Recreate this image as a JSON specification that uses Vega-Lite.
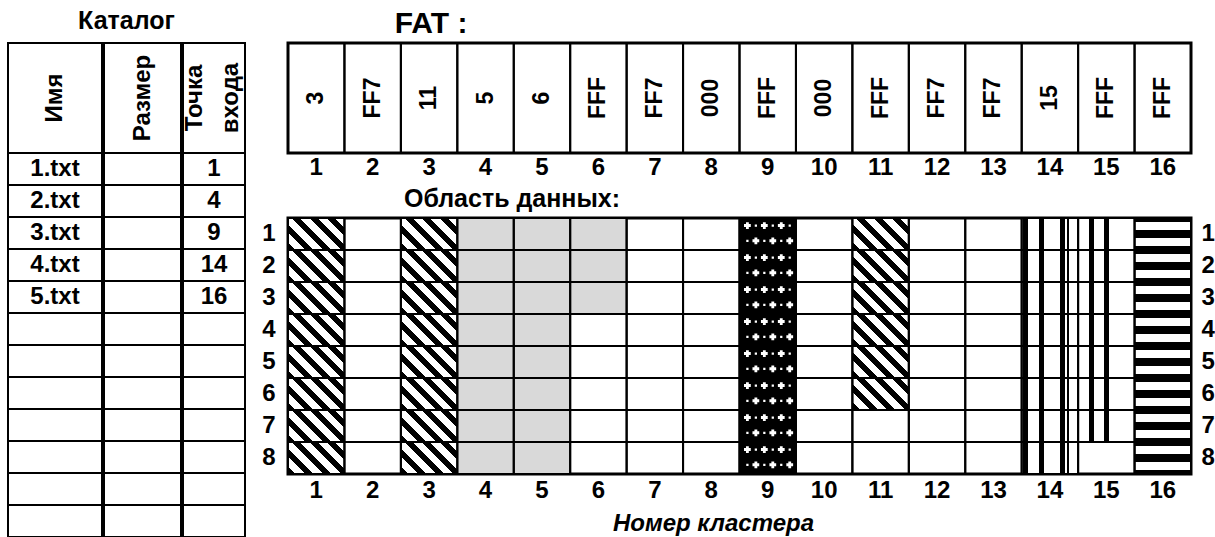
{
  "$schema": "https://vega.github.io/schema/vega-lite/v6.json",
  "background": "white",
  "padding": {"left": 6, "top": 7, "right": 0, "bottom": 0},
  "autosize": {"type": "pad"},
  "config": {
    "font": "Liberation Sans",
    "view": {"stroke": "black", "strokeWidth": 2},
    "text": {"font": "Liberation Sans", "fontWeight": "bold", "fontSize": 24, "color": "black"},
    "title": {"font": "Liberation Sans", "fontWeight": "bold", "color": "black"},
    "axis": {"labelFont": "Liberation Sans", "labelFontWeight": "bold", "labelFontSize": 24, "labelColor": "black", "domain": false, "ticks": false, "tickSize": 0, "grid": false, "labelAngle": 0}
  },
  "datasets": {
    "catalog": [
      {"row": 1, "name": "1.txt", "size": "", "entry": "1"},
      {"row": 2, "name": "2.txt", "size": "", "entry": "4"},
      {"row": 3, "name": "3.txt", "size": "", "entry": "9"},
      {"row": 4, "name": "4.txt", "size": "", "entry": "14"},
      {"row": 5, "name": "5.txt", "size": "", "entry": "16"},
      {"row": 6, "name": "", "size": "", "entry": ""},
      {"row": 7, "name": "", "size": "", "entry": ""},
      {"row": 8, "name": "", "size": "", "entry": ""},
      {"row": 9, "name": "", "size": "", "entry": ""},
      {"row": 10, "name": "", "size": "", "entry": ""},
      {"row": 11, "name": "", "size": "", "entry": ""},
      {"row": 12, "name": "", "size": "", "entry": ""}
    ],
    "fat": [
      {"cluster": 1, "value": "3"}, {"cluster": 2, "value": "FF7"}, {"cluster": 3, "value": "11"}, {"cluster": 4, "value": "5"},
      {"cluster": 5, "value": "6"}, {"cluster": 6, "value": "FFF"}, {"cluster": 7, "value": "FF7"}, {"cluster": 8, "value": "000"},
      {"cluster": 9, "value": "FFF"}, {"cluster": 10, "value": "000"}, {"cluster": 11, "value": "FFF"}, {"cluster": 12, "value": "FF7"},
      {"cluster": 13, "value": "FF7"}, {"cluster": 14, "value": "15"}, {"cluster": 15, "value": "FFF"}, {"cluster": 16, "value": "FFF"}
    ],
    "cells": [
      {"cluster": 1, "sector": 1, "file": "1.txt"}, {"cluster": 1, "sector": 2, "file": "1.txt"}, {"cluster": 1, "sector": 3, "file": "1.txt"}, {"cluster": 1, "sector": 4, "file": "1.txt"},
      {"cluster": 1, "sector": 5, "file": "1.txt"}, {"cluster": 1, "sector": 6, "file": "1.txt"}, {"cluster": 1, "sector": 7, "file": "1.txt"}, {"cluster": 1, "sector": 8, "file": "1.txt"},
      {"cluster": 2, "sector": 1, "file": ""}, {"cluster": 2, "sector": 2, "file": ""}, {"cluster": 2, "sector": 3, "file": ""}, {"cluster": 2, "sector": 4, "file": ""},
      {"cluster": 2, "sector": 5, "file": ""}, {"cluster": 2, "sector": 6, "file": ""}, {"cluster": 2, "sector": 7, "file": ""}, {"cluster": 2, "sector": 8, "file": ""},
      {"cluster": 3, "sector": 1, "file": "1.txt"}, {"cluster": 3, "sector": 2, "file": "1.txt"}, {"cluster": 3, "sector": 3, "file": "1.txt"}, {"cluster": 3, "sector": 4, "file": "1.txt"},
      {"cluster": 3, "sector": 5, "file": "1.txt"}, {"cluster": 3, "sector": 6, "file": "1.txt"}, {"cluster": 3, "sector": 7, "file": "1.txt"}, {"cluster": 3, "sector": 8, "file": "1.txt"},
      {"cluster": 4, "sector": 1, "file": "2.txt"}, {"cluster": 4, "sector": 2, "file": "2.txt"}, {"cluster": 4, "sector": 3, "file": "2.txt"}, {"cluster": 4, "sector": 4, "file": "2.txt"},
      {"cluster": 4, "sector": 5, "file": "2.txt"}, {"cluster": 4, "sector": 6, "file": "2.txt"}, {"cluster": 4, "sector": 7, "file": "2.txt"}, {"cluster": 4, "sector": 8, "file": "2.txt"},
      {"cluster": 5, "sector": 1, "file": "2.txt"}, {"cluster": 5, "sector": 2, "file": "2.txt"}, {"cluster": 5, "sector": 3, "file": "2.txt"}, {"cluster": 5, "sector": 4, "file": "2.txt"},
      {"cluster": 5, "sector": 5, "file": "2.txt"}, {"cluster": 5, "sector": 6, "file": "2.txt"}, {"cluster": 5, "sector": 7, "file": "2.txt"}, {"cluster": 5, "sector": 8, "file": "2.txt"},
      {"cluster": 6, "sector": 1, "file": "2.txt"}, {"cluster": 6, "sector": 2, "file": "2.txt"}, {"cluster": 6, "sector": 3, "file": "2.txt"}, {"cluster": 6, "sector": 4, "file": ""},
      {"cluster": 6, "sector": 5, "file": ""}, {"cluster": 6, "sector": 6, "file": ""}, {"cluster": 6, "sector": 7, "file": ""}, {"cluster": 6, "sector": 8, "file": ""},
      {"cluster": 7, "sector": 1, "file": ""}, {"cluster": 7, "sector": 2, "file": ""}, {"cluster": 7, "sector": 3, "file": ""}, {"cluster": 7, "sector": 4, "file": ""},
      {"cluster": 7, "sector": 5, "file": ""}, {"cluster": 7, "sector": 6, "file": ""}, {"cluster": 7, "sector": 7, "file": ""}, {"cluster": 7, "sector": 8, "file": ""},
      {"cluster": 8, "sector": 1, "file": ""}, {"cluster": 8, "sector": 2, "file": ""}, {"cluster": 8, "sector": 3, "file": ""}, {"cluster": 8, "sector": 4, "file": ""},
      {"cluster": 8, "sector": 5, "file": ""}, {"cluster": 8, "sector": 6, "file": ""}, {"cluster": 8, "sector": 7, "file": ""}, {"cluster": 8, "sector": 8, "file": ""},
      {"cluster": 9, "sector": 1, "file": "3.txt"}, {"cluster": 9, "sector": 2, "file": "3.txt"}, {"cluster": 9, "sector": 3, "file": "3.txt"}, {"cluster": 9, "sector": 4, "file": "3.txt"},
      {"cluster": 9, "sector": 5, "file": "3.txt"}, {"cluster": 9, "sector": 6, "file": "3.txt"}, {"cluster": 9, "sector": 7, "file": "3.txt"}, {"cluster": 9, "sector": 8, "file": "3.txt"},
      {"cluster": 10, "sector": 1, "file": ""}, {"cluster": 10, "sector": 2, "file": ""}, {"cluster": 10, "sector": 3, "file": ""}, {"cluster": 10, "sector": 4, "file": ""},
      {"cluster": 10, "sector": 5, "file": ""}, {"cluster": 10, "sector": 6, "file": ""}, {"cluster": 10, "sector": 7, "file": ""}, {"cluster": 10, "sector": 8, "file": ""},
      {"cluster": 11, "sector": 1, "file": "1.txt"}, {"cluster": 11, "sector": 2, "file": "1.txt"}, {"cluster": 11, "sector": 3, "file": "1.txt"}, {"cluster": 11, "sector": 4, "file": "1.txt"},
      {"cluster": 11, "sector": 5, "file": "1.txt"}, {"cluster": 11, "sector": 6, "file": "1.txt"}, {"cluster": 11, "sector": 7, "file": ""}, {"cluster": 11, "sector": 8, "file": ""},
      {"cluster": 12, "sector": 1, "file": ""}, {"cluster": 12, "sector": 2, "file": ""}, {"cluster": 12, "sector": 3, "file": ""}, {"cluster": 12, "sector": 4, "file": ""},
      {"cluster": 12, "sector": 5, "file": ""}, {"cluster": 12, "sector": 6, "file": ""}, {"cluster": 12, "sector": 7, "file": ""}, {"cluster": 12, "sector": 8, "file": ""},
      {"cluster": 13, "sector": 1, "file": ""}, {"cluster": 13, "sector": 2, "file": ""}, {"cluster": 13, "sector": 3, "file": ""}, {"cluster": 13, "sector": 4, "file": ""},
      {"cluster": 13, "sector": 5, "file": ""}, {"cluster": 13, "sector": 6, "file": ""}, {"cluster": 13, "sector": 7, "file": ""}, {"cluster": 13, "sector": 8, "file": ""},
      {"cluster": 14, "sector": 1, "file": "4.txt"}, {"cluster": 14, "sector": 2, "file": "4.txt"}, {"cluster": 14, "sector": 3, "file": "4.txt"}, {"cluster": 14, "sector": 4, "file": "4.txt"},
      {"cluster": 14, "sector": 5, "file": "4.txt"}, {"cluster": 14, "sector": 6, "file": "4.txt"}, {"cluster": 14, "sector": 7, "file": "4.txt"}, {"cluster": 14, "sector": 8, "file": "4.txt"},
      {"cluster": 15, "sector": 1, "file": "4.txt"}, {"cluster": 15, "sector": 2, "file": "4.txt"}, {"cluster": 15, "sector": 3, "file": "4.txt"}, {"cluster": 15, "sector": 4, "file": "4.txt"},
      {"cluster": 15, "sector": 5, "file": "4.txt"}, {"cluster": 15, "sector": 6, "file": "4.txt"}, {"cluster": 15, "sector": 7, "file": "4.txt"}, {"cluster": 15, "sector": 8, "file": ""},
      {"cluster": 16, "sector": 1, "file": "5.txt"}, {"cluster": 16, "sector": 2, "file": "5.txt"}, {"cluster": 16, "sector": 3, "file": "5.txt"}, {"cluster": 16, "sector": 4, "file": "5.txt"},
      {"cluster": 16, "sector": 5, "file": "5.txt"}, {"cluster": 16, "sector": 6, "file": "5.txt"}, {"cluster": 16, "sector": 7, "file": "5.txt"}, {"cluster": 16, "sector": 8, "file": "5.txt"}
    ]
  },
  "spacing": 13,
  "bounds": "full",
  "hconcat": [
    {
      "title": {"text": "Каталог", "fontSize": 25, "anchor": "middle", "baseline": "alphabetic", "offset": -11.6},
      "spacing": -5.5,
      "bounds": "full",
      "hconcat": [
        {
          "spacing": 0, "bounds": "flush",
          "vconcat": [
            {"width": 94, "height": 110, "data": {"values": [{"head": "Имя"}]},
             "view": {"stroke": "black", "strokeWidth": 2},
             "mark": {"type": "text", "angle": 270, "align": "center", "baseline": "middle"},
             "encoding": {"text": {"field": "head"}}},
            {"width": 94, "height": 384, "data": {"name": "catalog"},
             "view": {"stroke": "black", "strokeWidth": 2},
             "encoding": {"y": {"field": "row", "type": "ordinal", "axis": null, "scale": {"type": "band", "paddingInner": 0, "paddingOuter": 0}}},
             "layer": [
               {"mark": {"type": "rect", "filled": false, "stroke": "black", "strokeWidth": 2}},
               {"mark": {"type": "text", "align": "center", "baseline": "middle"}, "encoding": {"text": {"field": "name"}}}
             ]}
          ]
        },
        {
          "spacing": 0, "bounds": "flush",
          "vconcat": [
            {"width": 77, "height": 110, "data": {"values": [{"head": "Размер"}]},
             "view": {"stroke": "black", "strokeWidth": 2},
             "mark": {"type": "text", "angle": 270, "align": "center", "baseline": "middle"},
             "encoding": {"text": {"field": "head"}}},
            {"width": 77, "height": 384, "data": {"name": "catalog"},
             "view": {"stroke": "black", "strokeWidth": 2},
             "encoding": {"y": {"field": "row", "type": "ordinal", "axis": null, "scale": {"type": "band", "paddingInner": 0, "paddingOuter": 0}}},
             "layer": [
               {"mark": {"type": "rect", "filled": false, "stroke": "black", "strokeWidth": 2}},
               {"mark": {"type": "text", "align": "center", "baseline": "middle"}, "encoding": {"text": {"field": "size"}}}
             ]}
          ]
        },
        {
          "spacing": 0, "bounds": "flush",
          "vconcat": [
            {"width": 62, "height": 110, "data": {"values": [{"head": "Точка\nвхода"}]},
             "view": {"stroke": "black", "strokeWidth": 2},
             "mark": {"type": "text", "angle": 270, "align": "center", "baseline": "middle", "lineBreak": "\n", "lineHeight": 36, "dy": -19},
             "encoding": {"text": {"field": "head"}}},
            {"width": 62, "height": 384, "data": {"name": "catalog"},
             "view": {"stroke": "black", "strokeWidth": 2},
             "encoding": {"y": {"field": "row", "type": "ordinal", "axis": null, "scale": {"type": "band", "paddingInner": 0, "paddingOuter": 0}}},
             "layer": [
               {"mark": {"type": "rect", "filled": false, "stroke": "black", "strokeWidth": 2}},
               {"mark": {"type": "text", "align": "center", "baseline": "middle"}, "encoding": {"text": {"field": "entry"}}}
             ]}
          ]
        }
      ]
    },
    {
      "spacing": 65,
      "bounds": "flush",
      "vconcat": [
        {
          "width": 903, "height": 110, "data": {"name": "fat"},
          "view": {"stroke": "black", "strokeWidth": 3},
          "title": {"text": "FAT :", "fontSize": 30, "anchor": "middle", "frame": "group", "dx": -308.5, "baseline": "alphabetic", "offset": -21},
          "encoding": {"x": {"field": "cluster", "type": "ordinal", "title": null, "scale": {"type": "band", "paddingInner": 0, "paddingOuter": 0}, "axis": {"orient": "bottom", "labelPadding": 2}}},
          "layer": [
            {"mark": {"type": "rect", "filled": false, "stroke": "black", "strokeWidth": 2}},
            {"mark": {"type": "text", "angle": 270, "align": "center", "baseline": "middle", "fontSize": 23}, "encoding": {"text": {"field": "value"}}}
          ]
        },
        {
          "width": 903, "height": 256, "data": {"name": "cells"},
          "view": {"stroke": "black", "strokeWidth": 3},
          "title": {"text": "Область данных:", "fontSize": 25, "anchor": "middle", "frame": "group", "dx": -227.5, "baseline": "alphabetic", "offset": -15},
          "encoding": {
            "x": {"field": "cluster", "type": "ordinal", "title": null, "scale": {"type": "band", "paddingInner": 0, "paddingOuter": 0}, "axis": null},
            "y": {"field": "sector", "type": "ordinal", "title": null, "scale": {"type": "band", "paddingInner": 0, "paddingOuter": 0}, "axis": null}
          },
          "layer": [
            {
              "transform": [{"filter": {"field": "file", "equal": "1.txt"}}],
              "mark": {"type": "rect", "strokeWidth": 0, "fill": {"gradient": "linear", "x1": 0, "y1": 1, "x2": 1.186, "y2": 0.3275, "stops": [
                {"offset": 0, "color": "black"}, {"offset": 0.09, "color": "black"}, {"offset": 0.09, "color": "white"}, {"offset": 0.2, "color": "white"},
                {"offset": 0.2, "color": "black"}, {"offset": 0.29, "color": "black"}, {"offset": 0.29, "color": "white"}, {"offset": 0.4, "color": "white"},
                {"offset": 0.4, "color": "black"}, {"offset": 0.49, "color": "black"}, {"offset": 0.49, "color": "white"}, {"offset": 0.6, "color": "white"},
                {"offset": 0.6, "color": "black"}, {"offset": 0.69, "color": "black"}, {"offset": 0.69, "color": "white"}, {"offset": 0.8, "color": "white"},
                {"offset": 0.8, "color": "black"}, {"offset": 0.89, "color": "black"}, {"offset": 0.89, "color": "white"}, {"offset": 1, "color": "white"}
              ]}}
            },
            {
              "transform": [{"filter": {"field": "file", "equal": "2.txt"}}],
              "mark": {"type": "rect", "strokeWidth": 0, "fill": "#d9d9d9"}
            },
            {
              "transform": [{"filter": {"field": "file", "equal": "3.txt"}}],
              "mark": {"type": "rect", "strokeWidth": 0, "fill": "black"}
            },
            {
              "transform": [{"filter": {"field": "file", "equal": "3.txt"}}],
              "mark": {"type": "point", "filled": true, "fill": "white", "opacity": 1, "strokeWidth": 0, "size": 3185,
                "shape": "M-0.84,-0.35h0.24v0.1h-0.24zM-0.77,-0.42h0.1v0.24h-0.1zM-0.24,-0.35h0.24v0.1h-0.24zM-0.17,-0.42h0.1v0.24h-0.1zM0.36,-0.35h0.24v0.1h-0.24zM0.43,-0.42h0.1v0.24h-0.1zM-0.54,0.19h0.24v0.1h-0.24zM-0.47,0.12h0.1v0.24h-0.1zM0.06,0.19h0.24v0.1h-0.24zM0.13,0.12h0.1v0.24h-0.1zM0.66,0.19h0.24v0.1h-0.24zM0.73,0.12h0.1v0.24h-0.1zM-0.46,-0.34h0.08v0.08h-0.08zM0.14,-0.34h0.08v0.08h-0.08zM0.74,-0.34h0.08v0.08h-0.08zM-0.76,0.2h0.08v0.08h-0.08zM-0.16,0.2h0.08v0.08h-0.08zM0.44,0.2h0.08v0.08h-0.08z"}
            },
            {
              "transform": [{"filter": {"and": [{"field": "file", "equal": "4.txt"}, {"field": "cluster", "equal": 14}]}}],
              "mark": {"type": "rect", "strokeWidth": 0, "fill": {"gradient": "linear", "x1": 0, "y1": 0, "x2": 1, "y2": 0, "stops": [
                {"offset": 0, "color": "white"}, {"offset": 0.02, "color": "white"}, {"offset": 0.02, "color": "black"}, {"offset": 0.12, "color": "black"},
                {"offset": 0.12, "color": "white"}, {"offset": 0.3, "color": "white"}, {"offset": 0.3, "color": "black"}, {"offset": 0.39, "color": "black"},
                {"offset": 0.39, "color": "white"}, {"offset": 0.68, "color": "white"}, {"offset": 0.68, "color": "black"}, {"offset": 0.76, "color": "black"},
                {"offset": 0.76, "color": "white"}, {"offset": 0.8, "color": "white"}, {"offset": 0.8, "color": "black"}, {"offset": 0.84, "color": "black"},
                {"offset": 0.84, "color": "white"}, {"offset": 1, "color": "white"}
              ]}}
            },
            {
              "transform": [{"filter": {"and": [{"field": "file", "equal": "4.txt"}, {"field": "cluster", "equal": 15}]}}],
              "mark": {"type": "rect", "strokeWidth": 0, "fill": {"gradient": "linear", "x1": 0, "y1": 0, "x2": 1, "y2": 0, "stops": [
                {"offset": 0, "color": "white"}, {"offset": 0.2, "color": "white"}, {"offset": 0.2, "color": "black"}, {"offset": 0.28, "color": "black"},
                {"offset": 0.28, "color": "white"}, {"offset": 0.46, "color": "white"}, {"offset": 0.46, "color": "black"}, {"offset": 0.55, "color": "black"},
                {"offset": 0.55, "color": "white"}, {"offset": 1, "color": "white"}
              ]}}
            },
            {
              "transform": [{"filter": {"field": "file", "equal": "5.txt"}}],
              "mark": {"type": "rect", "strokeWidth": 0, "fill": {"gradient": "linear", "x1": 0, "y1": 0, "x2": 0, "y2": 1, "stops": [
                {"offset": 0, "color": "black"}, {"offset": 0.12, "color": "black"}, {"offset": 0.12, "color": "white"}, {"offset": 0.38, "color": "white"},
                {"offset": 0.38, "color": "black"}, {"offset": 0.62, "color": "black"}, {"offset": 0.62, "color": "white"}, {"offset": 0.88, "color": "white"},
                {"offset": 0.88, "color": "black"}, {"offset": 1, "color": "black"}
              ]}}
            },
            {
              "mark": {"type": "rect", "filled": false, "stroke": "black", "strokeWidth": 2},
              "encoding": {
                "x": {"field": "cluster", "type": "ordinal", "title": "Номер кластера", "scale": {"type": "band", "paddingInner": 0, "paddingOuter": 0},
                  "axis": {"orient": "bottom", "labelPadding": 4.5, "titleFont": "Liberation Sans", "titleFontSize": 24, "titleFontWeight": "bold", "titleFontStyle": "italic", "titleColor": "black", "titleX": 425, "titleY": 56, "titleAlign": "center", "titleBaseline": "alphabetic"}},
                "y": {"field": "sector", "type": "ordinal", "title": null, "scale": {"type": "band", "paddingInner": 0, "paddingOuter": 0}, "axis": {"orient": "left", "labelPadding": 13}}
              }
            },
            {
              "mark": {"type": "rect", "opacity": 0},
              "encoding": {
                "y": {"field": "sector", "type": "ordinal", "title": null, "scale": {"type": "band", "paddingInner": 0, "paddingOuter": 0}, "axis": {"orient": "right", "labelPadding": 10}}
              }
            }
          ],
          "resolve": {"axis": {"x": "independent", "y": "independent"}}
        }
      ]
    }
  ]
}
